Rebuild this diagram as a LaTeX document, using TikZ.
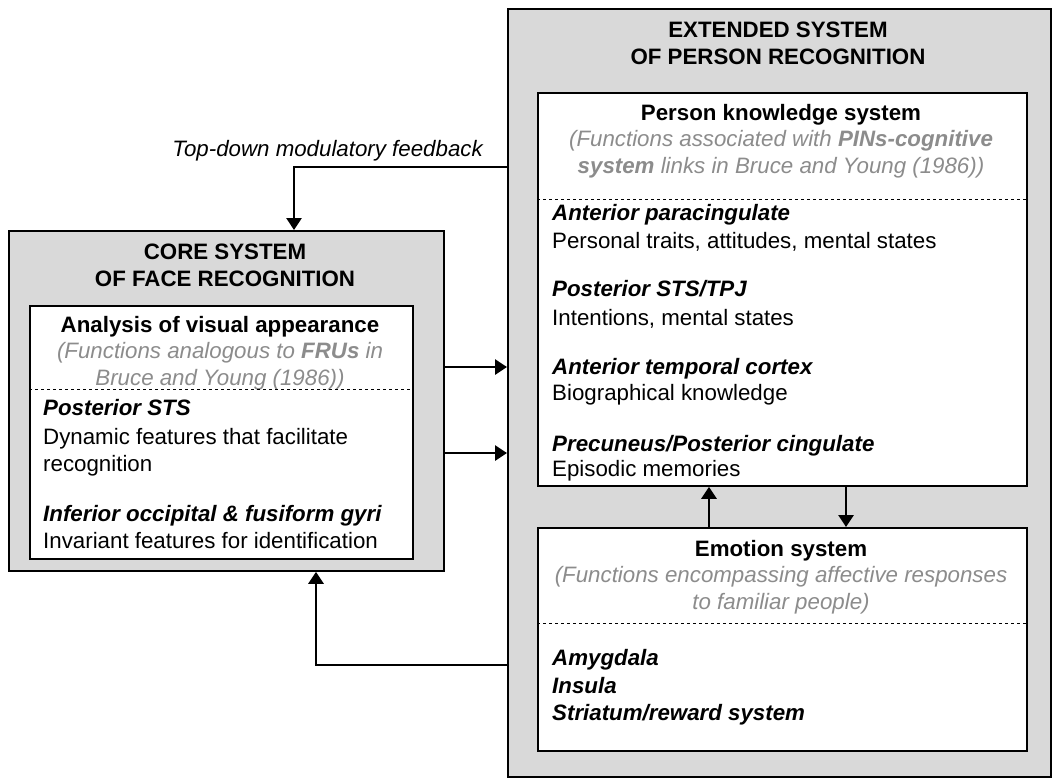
\documentclass[tikz,border=0pt]{standalone}
\usepackage{fontspec}
\setmainfont{Liberation Sans}
\usetikzlibrary{arrows.meta}

\definecolor{panelgray}{HTML}{D9D9D9}
\definecolor{notegray}{HTML}{8C8C8C}
\newcommand\figsize{\fontsize{22.3}{27}\selectfont}

\tikzset{
  panel/.style={draw, line width=1.8pt, fill=panelgray, anchor=north west, inner sep=0pt},
  subbox/.style={draw, line width=1.8pt, fill=white, anchor=north west, inner sep=0pt},
  heading/.style={font=\figsize\bfseries, align=center, inner sep=0pt},
  note/.style={font=\figsize\itshape, text=notegray, align=center, inner sep=0pt},
  area/.style={font=\figsize\bfseries\itshape, anchor=base west, inner sep=0pt},
  role/.style={font=\figsize, anchor=base west, inner sep=0pt, align=left},
  link/.style={line width=2.8pt, -{Triangle[length=12pt,width=15pt]}},
  cut/.style={dashed, line width=0.7pt},
}

\begin{document}
\begin{tikzpicture}[x=1pt,y=-1pt]
  \useasboundingbox (0,0) rectangle (1059,780);

  % boxes
  \node[panel, minimum width=435pt, minimum height=340pt] (core) at (8,230) {};
  \node[subbox, minimum width=383pt, minimum height=253pt] (visual) at (29,305) {};
  \node[panel, minimum width=543pt, minimum height=768pt] (ext) at (507,8) {};
  \node[subbox, minimum width=489pt, minimum height=393pt] (pk) at (537,92) {};
  \node[subbox, minimum width=489pt, minimum height=223pt] (emo) at (537,527) {};

  % core system
  \node[heading] (coretitle) at (225,265) {CORE SYSTEM\\OF FACE RECOGNITION};
  \node[heading] (visualtitle) at (220,327) {Analysis of visual appearance};
  \node[note] (visualnote) at (220,366) {(Functions analogous to \textbf{FRUs} in\\Bruce and Young (1986))};
  \coordinate (cutcore) at (0,389);
  \draw[cut] (visual.west |- cutcore) -- (visual.east |- cutcore);
  \node[area] (psts) at (43,415) {Posterior STS};
  \node[role] (dynamic) at (43,471) {Dynamic features that facilitate\\recognition};
  \node[area] (iog) at (43,521) {Inferior occipital \& fusiform gyri};
  \node[role] (invariant) at (43,548) {Invariant features for identification};

  % extended system
  \node[heading] (exttitle) at (778,43) {EXTENDED SYSTEM\\OF PERSON RECOGNITION};
  \node[heading] (pktitle) at (781,115) {Person knowledge system};
  \node[note] (pknote) at (781,154) {(Functions associated with \textbf{PINs-cognitive}\\\textbf{system} links in Bruce and Young (1986))};
  \coordinate (cutpk) at (0,199);
  \draw[cut] (pk.west |- cutpk) -- (pk.east |- cutpk);
  \node[area] (apc) at (552,220) {Anterior paracingulate};
  \node[role] (traits) at (552,248) {Personal traits, attitudes, mental states};
  \node[area] (ststpj) at (552,296) {Posterior STS/TPJ};
  \node[role] (intent) at (552,325) {Intentions, mental states};
  \node[area] (atc) at (552,374) {Anterior temporal cortex};
  \node[role] (bio) at (552,400) {Biographical knowledge};
  \node[area] (prec) at (552,451) {Precuneus/Posterior cingulate};
  \node[role] (episodic) at (552,476) {Episodic memories};

  \node[heading] (emotitle) at (781,551) {Emotion system};
  \node[note] (emonote) at (781,590) {(Functions encompassing affective responses\\to familiar people)};
  \coordinate (cutemo) at (0,623);
  \draw[cut] (emo.west |- cutemo) -- (emo.east |- cutemo);
  \node[area] (amy) at (552,665) {Amygdala};
  \node[area] (ins) at (552,693) {Insula};
  \node[area] (str) at (552,720) {Striatum/reward system};

  % connectors
  \coordinate (fwdA) at (0,367);
  \coordinate (fwdB) at (0,453);
  \draw[link] (core.east |- fwdA) -- (ext.west |- fwdA);
  \draw[link] (core.east |- fwdB) -- (ext.west |- fwdB);
  \coordinate (fbk) at (294,167);
  \draw[link] (ext.west |- fbk) -- (fbk) -- (core.north -| fbk);
  \node[font=\figsize\itshape, anchor=base east, inner sep=0pt] (fbklabel) at (483,156) {Top-down modulatory feedback};
  \coordinate (emoback) at (316,665);
  \draw[link] (ext.west |- emoback) -- (emoback) -- (core.south -| emoback);
  \coordinate (upx) at (709,0);
  \coordinate (downx) at (846,0);
  \draw[link] (emo.north -| upx) -- (pk.south -| upx);
  \draw[link] (pk.south -| downx) -- (emo.north -| downx);
\end{tikzpicture}
\end{document}
